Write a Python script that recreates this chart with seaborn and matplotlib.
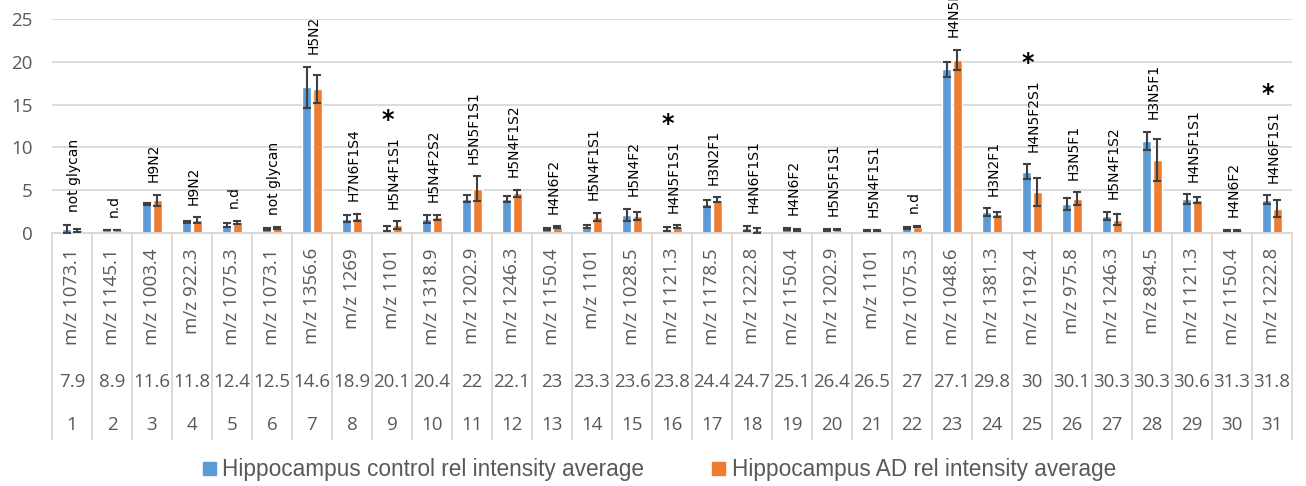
import matplotlib
matplotlib.use("Agg")
import matplotlib.pyplot as plt
import matplotlib.transforms as mtransforms
from matplotlib.patches import Patch
import pandas as pd
import seaborn as sns

# peak table
peak_no = list(range(1, 32))
mz = ['m/z 1073.1', 'm/z 1145.1', 'm/z 1003.4', 'm/z 922.3', 'm/z 1075.3', 'm/z 1073.1',
      'm/z 1356.6', 'm/z 1269', 'm/z 1101', 'm/z 1318.9', 'm/z 1202.9', 'm/z 1246.3',
      'm/z 1150.4', 'm/z 1101', 'm/z 1028.5', 'm/z 1121.3', 'm/z 1178.5', 'm/z 1222.8',
      'm/z 1150.4', 'm/z 1202.9', 'm/z 1101', 'm/z 1075.3', 'm/z 1048.6', 'm/z 1381.3',
      'm/z 1192.4', 'm/z 975.8', 'm/z 1246.3', 'm/z 894.5', 'm/z 1121.3', 'm/z 1150.4',
      'm/z 1222.8']
rt = ['7.9', '8.9', '11.6', '11.8', '12.4', '12.5', '14.6', '18.9', '20.1', '20.4', '22',
      '22.1', '23', '23.3', '23.6', '23.8', '24.4', '24.7', '25.1', '26.4', '26.5', '27',
      '27.1', '29.8', '30', '30.1', '30.3', '30.3', '30.6', '31.3', '31.8']
glycan = ['not glycan', 'n.d', 'H9N2', 'H9N2', 'n.d', 'not glycan', 'H5N2', 'H7N6F1S4',
          'H5N4F1S1', 'H5N4F2S2', 'H5N5F1S1', 'H5N4F1S2', 'H4N6F2', 'H5N4F1S1', 'H5N4F2',
          'H4N5F1S1', 'H3N2F1', 'H4N6F1S1', 'H4N6F2', 'H5N5F1S1', 'H5N4F1S1', 'n.d',
          'H4N5F1', 'H3N2F1', 'H4N5F2S1', 'H3N5F1', 'H5N4F1S2', 'H3N5F1', 'H4N5F1S1',
          'H4N6F2', 'H4N6F1S1']
significant = [9, 16, 25, 31]

control_avg = [0.5, 0.35, 3.4, 1.3, 0.95, 0.45, 17.0, 1.65, 0.5, 1.6, 4.0, 4.0, 0.45, 0.75,
               2.15, 0.45, 3.4, 0.55, 0.45, 0.35, 0.3, 0.55, 19.1, 2.45, 7.15, 3.4, 2.0,
               10.8, 3.95, 0.3, 3.9]
control_err = [0.45, 0.05, 0.15, 0.1, 0.2, 0.15, 2.4, 0.4, 0.3, 0.45, 0.4, 0.35, 0.15, 0.2,
               0.7, 0.2, 0.4, 0.3, 0.15, 0.1, 0.05, 0.1, 0.85, 0.45, 0.85, 0.7, 0.5, 1.05,
               0.6, 0.05, 0.5]
ad_avg = [0.3, 0.35, 3.8, 1.5, 1.25, 0.55, 16.8, 1.8, 0.95, 1.85, 5.15, 4.65, 0.7, 1.9, 2.0,
          0.75, 3.9, 0.3, 0.35, 0.4, 0.3, 0.75, 20.2, 2.2, 4.75, 4.0, 1.55, 8.5, 3.85, 0.3,
          2.85]
ad_err = [0.15, 0.05, 0.65, 0.35, 0.2, 0.1, 1.6, 0.45, 0.45, 0.3, 1.45, 0.4, 0.1, 0.45, 0.5,
          0.15, 0.3, 0.25, 0.15, 0.1, 0.05, 0.1, 1.2, 0.3, 1.65, 0.75, 0.65, 2.45, 0.4, 0.05,
          1.0]

series = ['Hippocampus control rel intensity average', 'Hippocampus AD rel intensity average']
colors = ['#5B9BD5', '#ED7D31']
grey = '#595959'
line_grey = '#D9D9D9'

df = pd.DataFrame({
    'peak': peak_no * 2,
    'value': control_avg + ad_avg,
    'series': [series[0]] * 31 + [series[1]] * 31,
})

sns.set_theme(style="white")
plt.rcParams['font.family'] = ['Open Sans', 'DejaVu Sans']

fig = plt.figure(figsize=(13.06, 4.86), dpi=100)
ax = fig.add_axes([0.0398, 0.5206, 0.9495, 0.4404])

sns.barplot(data=df, x='peak', y='value', hue='series', order=peak_no, hue_order=series,
            palette=colors, width=0.54, gap=0.15, errorbar=None, legend=False,
            saturation=1, ax=ax)

tops = []
for cont, avg, err in zip(ax.containers, [control_avg, ad_avg], [control_err, ad_err]):
    xs = [p.get_x() + p.get_width() / 2 for p in cont]
    ax.errorbar(xs, avg, yerr=err, fmt='none', ecolor='#404040', elinewidth=1.5,
                capsize=3.2, capthick=1.5, zorder=3)
    tops.append([a + e for a, e in zip(avg, err)])

ax.set_xlim(-0.5, 30.5)
ax.set_ylim(0, 25)
ax.set_yticks([0, 5, 10, 15, 20, 25])
ax.tick_params(axis='y', length=0, pad=14, labelsize=13.5, labelcolor=grey)
ax.set_xticks([])
ax.set_xlabel('')
ax.set_ylabel('')
ax.yaxis.grid(True, color=line_grey, lw=1.3)
ax.set_axisbelow(True)
for s in ['left', 'right', 'top']:
    ax.spines[s].set_visible(False)
ax.spines['bottom'].set_color(line_grey)
ax.spines['bottom'].set_linewidth(1.3)

# glycan labels above the bars
labels = []
for i, g in enumerate(glycan):
    top = max(tops[0][i], tops[1][i])
    t = ax.annotate(g, (i + 0.05, top), xytext=(0, 9), textcoords='offset points',
                    rotation=90, ha='center', va='bottom', fontsize=10,
                    family='DejaVu Sans', color='black')
    labels.append(t)

# category table under the axis
blend = mtransforms.blended_transform_factory(ax.transData, fig.transFigure)
ax.vlines([i - 0.5 for i in range(32)], 0.0947, 0.5206, transform=blend,
          colors=line_grey, lw=1.3, clip_on=False)
for i in range(31):
    ax.text(i, 0.4897, mz[i], transform=blend, rotation=90, ha='center', va='top',
            fontsize=13.5, color=grey)
    ax.text(i, 0.214, rt[i], transform=blend, ha='center', va='center',
            fontsize=13.5, color=grey)
    ax.text(i, 0.1255, str(peak_no[i]), transform=blend, ha='center', va='center',
            fontsize=13.5, color=grey)

# significance stars above the labels
fig.canvas.draw()
renderer = fig.canvas.get_renderer()
pix = mtransforms.blended_transform_factory(ax.transData, mtransforms.IdentityTransform())
for n in significant:
    bb = labels[n - 1].get_window_extent(renderer)
    ax.text(n - 1 - 0.1, bb.y1 + 9, '*', transform=pix, ha='center', va='baseline',
            fontsize=17, fontweight='bold', family='DejaVu Sans', color='black')

handles = [Patch(color=c, label=s) for c, s in zip(colors, series)]
fig.legend(handles=handles, loc='center', bbox_to_anchor=(0.505, 0.033), ncol=2,
           frameon=False, handlelength=0.55, handleheight=0.5, handletextpad=0.3,
           columnspacing=3.0, prop={'family': 'Liberation Sans', 'size': 16.3},
           labelcolor=grey)

fig.savefig('out.png', dpi=100)
